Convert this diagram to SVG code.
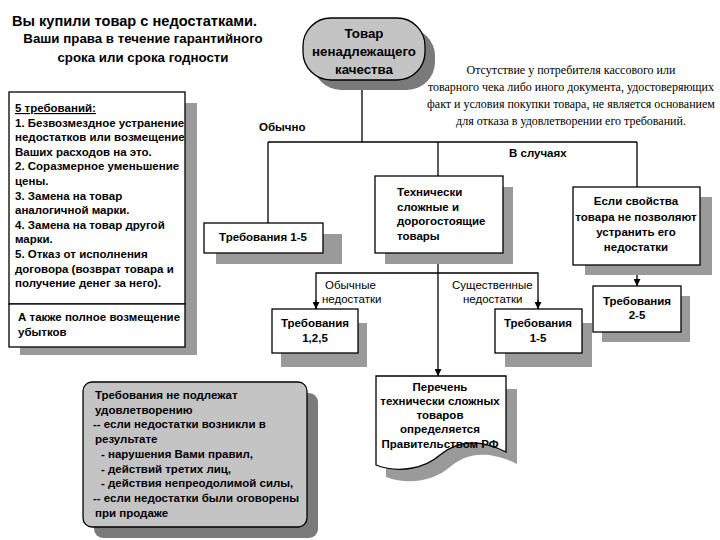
<svg xmlns="http://www.w3.org/2000/svg" width="720" height="540" viewBox="0 0 720 540">
<defs>
<marker id="arr" viewBox="0 0 10 10" refX="10" refY="5" markerWidth="7" markerHeight="7" markerUnits="userSpaceOnUse" orient="auto">
<path d="M0,0 L10,5 L0,10 Z" fill="#000"/>
</marker>
</defs>
<style>
text{font-family:"Liberation Sans",Arial,sans-serif;font-weight:bold;font-size:11.5px;fill:#000}
.t{font-size:14.6px}
.st{font-size:13.3px}
.note{font-family:"Liberation Serif","Times New Roman",serif;font-weight:normal;font-size:12px}
.lbl{font-weight:normal;font-size:11.5px}
.box{fill:#fff;stroke:#000;stroke-width:1.3}
.sh{fill:#9a9a9a}
.gbox{fill:#c4c4c4;stroke:#000;stroke-width:1.3}
.dsh{fill:#7a7a7a}
.c{text-anchor:middle}
.ln{fill:none;stroke:#000;stroke-width:1.3}
</style>
<rect width="720" height="540" fill="#fff"/>

<g id="title">
<text class="t" x="12" y="26">Вы купили товар с недостатками.</text>
<text class="st c" x="143" y="43">Ваши права в течение гарантийного</text>
<text class="st c" x="143" y="62">срока или срока годности</text>
</g>

<g id="note">
<text class="note c" x="571" y="74">Отсутствие у потребителя кассового или</text>
<text class="note c" x="571" y="91">товарного чека либо иного документа, удостоверяющих</text>
<text class="note c" x="571" y="108">факт и условия покупки товара, не является основанием</text>
<text class="note c" x="571" y="125">для отказа в удовлетворении его требований.</text>
</g>

<g id="connectors">
<path class="ln" d="M362,80 V142"/>
<path class="ln" d="M268,142 H637"/>
<path class="ln" d="M268,142 V223"/>
<path class="ln" d="M438,142 V176"/>
<path class="ln" d="M637,142 V187"/>
<path class="ln" d="M637,265 V286" marker-end="url(#arr)"/>
<path class="ln" d="M438,253 V376" marker-end="url(#arr)"/>
<path class="ln" d="M316,309 V273 H538 V309" />
<path class="ln" d="M316,300 V309" marker-end="url(#arr)"/>
<path class="ln" d="M538,300 V309" marker-end="url(#arr)"/>
<text x="259" y="131">Обычно</text>
<text x="509" y="157">В случаях</text>
<text class="lbl" x="325" y="289">Обычные</text>
<text class="lbl" x="322" y="303">недостатки</text>
<text class="lbl" x="452" y="289">Существенные</text>
<text class="lbl" x="463" y="303">недостатки</text>
</g>

<g id="node-oval">
<rect class="dsh" x="313" y="28" width="122" height="62" rx="28" ry="28"/>
<rect class="gbox" x="303" y="18" width="122" height="62" rx="28" ry="28"/>
<text class="st c" x="364" y="38">Товар</text>
<text class="st c" x="364" y="56">ненадлежащего</text>
<text class="st c" x="364" y="74">качества</text>
</g>

<g id="node-left">
<path class="sh" d="M185,103 H197 V355 H20 V347 H185 Z"/>
<rect class="box" x="9" y="92" width="176" height="212"/>
<rect class="box" x="9" y="304" width="176" height="43"/>
<text x="15" y="112" text-decoration="underline">5 требований:</text>
<text x="15" y="126.6">1. Безвозмездное устранение</text>
<text x="15" y="141.2">недостатков или возмещение</text>
<text x="15" y="155.8">Ваших расходов на это.</text>
<text x="15" y="170.4">2. Соразмерное уменьшение</text>
<text x="15" y="185">цены.</text>
<text x="15" y="199.6">3. Замена на товар</text>
<text x="15" y="214.2">аналогичной марки.</text>
<text x="15" y="228.8">4. Замена на товар другой</text>
<text x="15" y="243.4">марки.</text>
<text x="15" y="258">5. Отказ от исполнения</text>
<text x="15" y="272.6">договора (возврат товара и</text>
<text x="15" y="287.2">получение денег за него).</text>
<text x="18" y="321">А также полное возмещение</text>
<text x="18" y="336">убытков</text>
</g>

<g id="node-req15">
<rect class="sh" x="216" y="234" width="126" height="30"/>
<rect class="box" x="204" y="223" width="119" height="30"/>
<text class="c" x="263" y="241">Требования 1-5</text>
</g>

<g id="node-tech">
<rect class="sh" x="385" y="187" width="128" height="77"/>
<rect class="box" x="375" y="176" width="128" height="77"/>
<text x="397" y="196">Технически</text>
<text x="397" y="210.5">сложные и</text>
<text x="397" y="225">дорогостоящие</text>
<text x="397" y="239.5">товары</text>
</g>

<g id="node-props">
<rect class="sh" x="585" y="197" width="127" height="78"/>
<rect class="box" x="573" y="187" width="127" height="78"/>
<text class="c" x="636" y="205">Если свойства</text>
<text class="c" x="636" y="221">товара не позволяют</text>
<text class="c" x="636" y="236">устранить его</text>
<text class="c" x="636" y="251">недостатки</text>
</g>

<g id="node-req125">
<rect class="sh" x="281" y="323" width="86" height="44"/>
<rect class="box" x="272" y="309" width="86" height="44"/>
<text class="c" x="315" y="327">Требования</text>
<text class="c" x="315" y="342">1,2,5</text>
</g>

<g id="node-req15b">
<rect class="sh" x="505" y="323" width="87" height="44"/>
<rect class="box" x="495" y="309" width="87" height="44"/>
<text class="c" x="538" y="327">Требования</text>
<text class="c" x="538" y="342">1-5</text>
</g>

<g id="node-req25">
<rect class="sh" x="602" y="296" width="88" height="46"/>
<rect class="box" x="593" y="286" width="88" height="46"/>
<text class="c" x="637" y="305">Требования</text>
<text class="c" x="637" y="319">2-5</text>
</g>

<g id="node-doc">
<path class="sh" d="M386,389 H517 V464 C482,447 462,457 450,467 C435,480 410,486 386,477 Z"/>
<path class="box" d="M376,376 H506 V452 C472,435 452,445 440,455 C425,468 400,474 376,465 Z"/>
<text class="c" x="440" y="391">Перечень</text>
<text class="c" x="440" y="405">технически сложных</text>
<text class="c" x="440" y="419">товаров</text>
<text class="c" x="440" y="433">определяется</text>
<text class="c" x="440" y="448">Правительством РФ</text>
</g>

<g id="node-exclusions">
<rect class="dsh" x="94" y="393" width="224" height="145" rx="9" ry="9"/>
<rect class="gbox" x="83" y="382" width="224" height="145" rx="9" ry="9"/>
<text x="95" y="399">Требования не подлежат</text>
<text x="95" y="413.7">удовлетворению</text>
<text x="93" y="428.4">-- если недостатки возникли в</text>
<text x="95" y="443.1">результате</text>
<text x="101" y="457.8">- нарушения Вами правил,</text>
<text x="101" y="472.5">- действий третих лиц,</text>
<text x="101" y="487.2">- действия непреодолимой силы,</text>
<text x="93" y="501.9">-- если недостатки были оговорены</text>
<text x="95" y="516.6">при продаже</text>
</g>
</svg>
